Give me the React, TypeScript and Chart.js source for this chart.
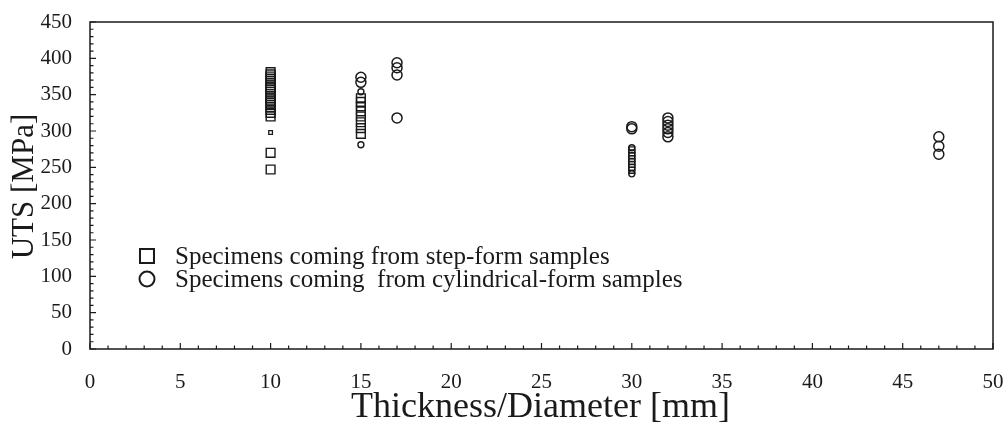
import React, { useEffect, useRef } from "react";
import { Chart, registerables } from "chart.js";

Chart.register(...registerables);

// Squares: specimens from step-form samples
const stepThickness = [10, 10, 10, 10, 10, 10, 10, 10, 10, 10, 10, 10, 10, 10, 10, 10, 10, 10, 10, 10, 10, 10, 15, 15, 15, 15, 15, 15, 15, 15];
const stepUTS = [381, 378, 375, 372, 369, 366, 363, 360, 357, 354, 351, 348, 345, 342, 339, 336, 333, 329, 325, 320, 270, 247, 345, 340, 334, 327, 320, 312, 304, 296];
const stepSmallThickness = [30, 30, 30, 30, 30, 30, 30, 30];
const stepSmallUTS = [274, 270, 266, 262, 258, 254, 250, 246];
const stepTinyThickness = [10];
const stepTinyUTS = [298];

// Circles: specimens from cylindrical-form samples
const cylThickness = [15, 15, 17, 17, 17, 17, 30, 30, 32, 32, 32, 32, 32, 32, 47, 47, 47];
const cylUTS = [374, 367, 394, 387, 377, 318, 306, 303, 318, 313, 308, 303, 298, 292, 292, 279, 268];
const cylSmallThickness = [15, 15, 30, 30];
const cylSmallUTS = [354, 281, 277, 241];

const xTicks = [0, 5, 10, 15, 20, 25, 30, 35, 40, 45, 50];
const yTicks = [0, 50, 100, 150, 200, 250, 300, 350, 400, 450];

const xTitle = "Thickness/Diameter [mm]";
const yTitle = "UTS [MPa]";
const legendLabels = [
  "Specimens coming from step-form samples",
  "Specimens coming  from cylindrical-form samples",
];

const pts = (xs: number[], ys: number[]) => xs.map((x, i) => ({ x, y: ys[i] }));

const INK = "#1a1a1a";
const FONT = "'Liberation Serif', 'DejaVu Serif', serif";

const framePlugin = {
  id: "frameTicks",
  afterDraw(chart: any) {
    const { ctx, chartArea: a, scales } = chart;
    const xs = scales.x;
    const ys = scales.y;
    ctx.save();
    ctx.strokeStyle = INK;
    ctx.lineWidth = 1.5;
    ctx.strokeRect(a.left, a.top, a.right - a.left, a.bottom - a.top);
    ctx.lineWidth = 1.2;
    ctx.beginPath();
    for (let v = 0; v <= 50; v += 1) {
      const px = xs.getPixelForValue(v);
      const len = v % 5 === 0 ? 6 : 3.5;
      ctx.moveTo(px, a.bottom);
      ctx.lineTo(px, a.bottom - len);
    }
    for (let v = 0; v <= 450; v += 10) {
      const py = ys.getPixelForValue(v);
      const len = v % 50 === 0 ? 6 : 3.5;
      ctx.moveTo(a.left, py);
      ctx.lineTo(a.left + len, py);
    }
    ctx.stroke();

    // legend inside plot area
    const lx = a.left + 57;
    const ly1 = a.top + 234;
    const ly2 = a.top + 257;
    ctx.lineWidth = 2;
    ctx.strokeRect(lx - 7, ly1 - 7, 14, 14);
    ctx.beginPath();
    ctx.arc(lx, ly2, 7.5, 0, Math.PI * 2);
    ctx.stroke();
    ctx.fillStyle = INK;
    ctx.textBaseline = "middle";
    ctx.textAlign = "left";
    ctx.font = `25px ${FONT}`;
    ctx.fillText(legendLabels[0], lx + 28, ly1 + 1);
    ctx.fillText(legendLabels[1], lx + 28, ly2 + 1);

    // axis titles
    ctx.textAlign = "center";
    ctx.font = `36px ${FONT}`;
    ctx.fillText(xTitle, (a.left + a.right) / 2 - 1, 408);

    ctx.font = `31px ${FONT}`;
    ctx.save();
    ctx.translate(25, (a.top + a.bottom) / 2 + 1);
    ctx.rotate(-Math.PI / 2);
    ctx.fillText(yTitle, 0, 0);
    ctx.restore();
    ctx.restore();
  },
};

export default function App() {
  const ref = useRef<HTMLCanvasElement | null>(null);
  useEffect(() => {
    document.body.style.margin = "0";
    const base = {
      borderColor: INK,
      backgroundColor: "rgba(255,255,255,0)",
      showLine: false,
    };
    const chart = new Chart(ref.current as HTMLCanvasElement, {
      type: "scatter",
      data: {
        datasets: [
          { ...base, data: pts(stepThickness, stepUTS), pointStyle: "rect", pointRadius: 6.2, borderWidth: 1.4 },
          { ...base, data: pts(stepSmallThickness, stepSmallUTS), pointStyle: "rect", pointRadius: 4.2, borderWidth: 1.4 },
          { ...base, data: pts(stepTinyThickness, stepTinyUTS), pointStyle: "rect", pointRadius: 2.6, borderWidth: 1.3 },
          { ...base, data: pts(cylThickness, cylUTS), pointStyle: "circle", pointRadius: 5, borderWidth: 1.5 },
          { ...base, data: pts(cylSmallThickness, cylSmallUTS), pointStyle: "circle", pointRadius: 3, borderWidth: 1.4 },
        ],
      },
      options: {
        animation: false,
        responsive: false,
        devicePixelRatio: 1,
        layout: { padding: { left: 0, top: 22, right: 12, bottom: 0 } },
        plugins: { legend: { display: false }, tooltip: { enabled: false } },
        scales: {
          x: {
            type: "linear",
            min: 0,
            max: 50,
            afterBuildTicks: (s: any) => { s.ticks = xTicks.map((v) => ({ value: v })); },
            afterFit: (s: any) => { s.height = 80; s.paddingLeft = 0; s.paddingRight = 0; },
            grid: { display: false, drawTicks: false },
            border: { display: false },
            ticks: { color: INK, font: { family: FONT, size: 21 }, padding: 21, maxRotation: 0 },
            title: { display: false },
          },
          y: {
            type: "linear",
            min: 0,
            max: 450,
            afterBuildTicks: (s: any) => { s.ticks = yTicks.map((v) => ({ value: v })); },
            afterFit: (s: any) => { s.width = 90; s.paddingTop = 0; s.paddingBottom = 0; },
            grid: { display: false, drawTicks: false },
            border: { display: false },
            ticks: { color: INK, font: { family: FONT, size: 21 }, padding: 18 },
            title: { display: false },
          },
        },
      },
      plugins: [framePlugin],
    } as any);
    return () => chart.destroy();
  }, []);
  return <canvas ref={ref} width={1005} height={429} style={{ display: "block", background: "#fff" }} />;
}
